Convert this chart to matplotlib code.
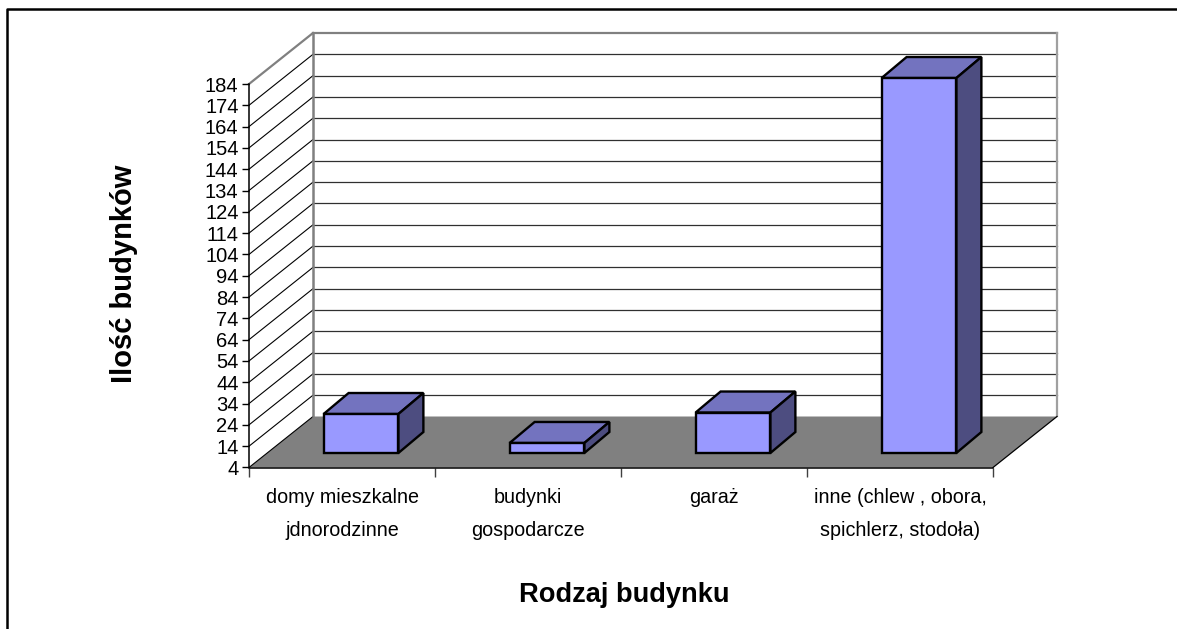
#!/usr/bin/env python
import matplotlib
matplotlib.use('Agg')
import matplotlib.pyplot as plt
from matplotlib.patches import Polygon

categories = ['domy mieszkalne\njdnorodzinne', 'budynki\ngospodarcze', 'garaż',
              'inne (chlew , obora,\nspichlerz, stodoła)']
values = [22.3, 8.7, 23.0, 180.0]
yticks = list(range(4, 185, 10))
ylabel = 'Ilość budynków'
xlabel = 'Rodzaj budynku'

W, H = 1177, 629
YMIN, YMAX = 4, 184
NCAT = len(categories)

# 3d look, in data units of the front plane
DX = 64 / 744 * NCAT
DY = 51 / 383.5 * (YMAX - YMIN)
BAR_W = 0.402
BAR_DX = 25 / 744 * NCAT
BAR_DY = 21 / 383.5 * (YMAX - YMIN)
BAR_OX = 19 / 744 * NCAT
BAR_OY = 14.5 / 383.5 * (YMAX - YMIN)

FLOOR = '#808080'
FRONT = '#9999ff'
TOP = '#7373bf'
SIDE = '#4d4d80'

plt.rcParams['font.family'] = ['Liberation Sans', 'DejaVu Sans']

fig = plt.figure(figsize=(W / 100, H / 100), dpi=100)
ax = fig.add_axes([249 / W, 1 - 467.5 / H, 744 / W, 383.5 / H])
ax.set_xlim(0, NCAT)
ax.set_ylim(YMIN, YMAX)
ax.patch.set_visible(False)
for s in ['top', 'right']:
    ax.spines[s].set_visible(False)
for s in ['left', 'bottom']:
    ax.spines[s].set_linewidth(1.1)

# floor
ax.add_patch(Polygon([(0, YMIN), (NCAT, YMIN), (NCAT + DX, YMIN + DY), (DX, YMIN + DY)],
                     fc=FLOOR, ec='none', clip_on=False, zorder=1))
ax.plot([NCAT, NCAT + DX], [YMIN, YMIN + DY], color='black', lw=0.9, clip_on=False, zorder=1.5)

# grid on side wall and back wall
for v in yticks:
    top = v == YMAX
    ax.plot([0, DX], [v, v + DY], color='#808080' if top else 'black',
            lw=1.6 if top else 0.8, clip_on=False, zorder=1.2)
    if v > YMIN:
        ax.plot([DX, NCAT + DX], [v + DY, v + DY], color='#808080' if top else '#303030',
                lw=1.6 if top else 0.9, clip_on=False, zorder=1.2)
ax.plot([DX, DX], [YMIN + DY, YMAX + DY], color='#808080', lw=1.8, clip_on=False, zorder=1.3)
ax.plot([NCAT + DX] * 2, [YMIN + DY, YMAX + DY], color='#a0a0a0', lw=1.6, clip_on=False, zorder=1.3)

# bars
for i, v in enumerate(values):
    x0 = i + 0.5 + BAR_OX - BAR_W / 2
    x1 = x0 + BAR_W
    y0 = YMIN + BAR_OY
    y1 = y0 + v - YMIN
    faces = [
        ([(x0, y1), (x1, y1), (x1 + BAR_DX, y1 + BAR_DY), (x0 + BAR_DX, y1 + BAR_DY)], TOP),
        ([(x1, y0), (x1 + BAR_DX, y0 + BAR_DY), (x1 + BAR_DX, y1 + BAR_DY), (x1, y1)], SIDE),
        ([(x0, y0), (x1, y0), (x1, y1), (x0, y1)], FRONT),
    ]
    for pts, col in faces:
        ax.add_patch(Polygon(pts, fc=col, ec='black', lw=1.7, joinstyle='miter',
                             clip_on=False, zorder=3))

ax.set_yticks(yticks)
ax.set_xticks(range(NCAT + 1))
ax.set_xticklabels([])
ax.tick_params(axis='y', length=5, width=1, pad=2.5, labelsize=14.5)
ax.tick_params(axis='x', length=6.5, width=1, color='#404040')

for i, c in enumerate(categories):
    ax.annotate(c, (i + 0.5, YMIN), xytext=(0, -15), textcoords='offset points', ha='center',
                va='top', fontsize=14.2, linespacing=1.9, annotation_clip=False)

fig.text(624 / W, 1 - 595 / H, xlabel, ha='center', va='center', fontsize=19.6, fontweight='bold')
fig.text(124 / W, 1 - 274 / H, ylabel, ha='center', va='center', rotation=90,
         fontsize=21, fontweight='bold')

# chart frame, cut off by the image at the bottom and right
fig.add_artist(plt.Line2D([7.2 / W, 7.2 / W, 1], [0, 1 - 9.2 / H, 1 - 9.2 / H],
                          color='black', lw=1.8))

fig.savefig('out.png', dpi=100)
